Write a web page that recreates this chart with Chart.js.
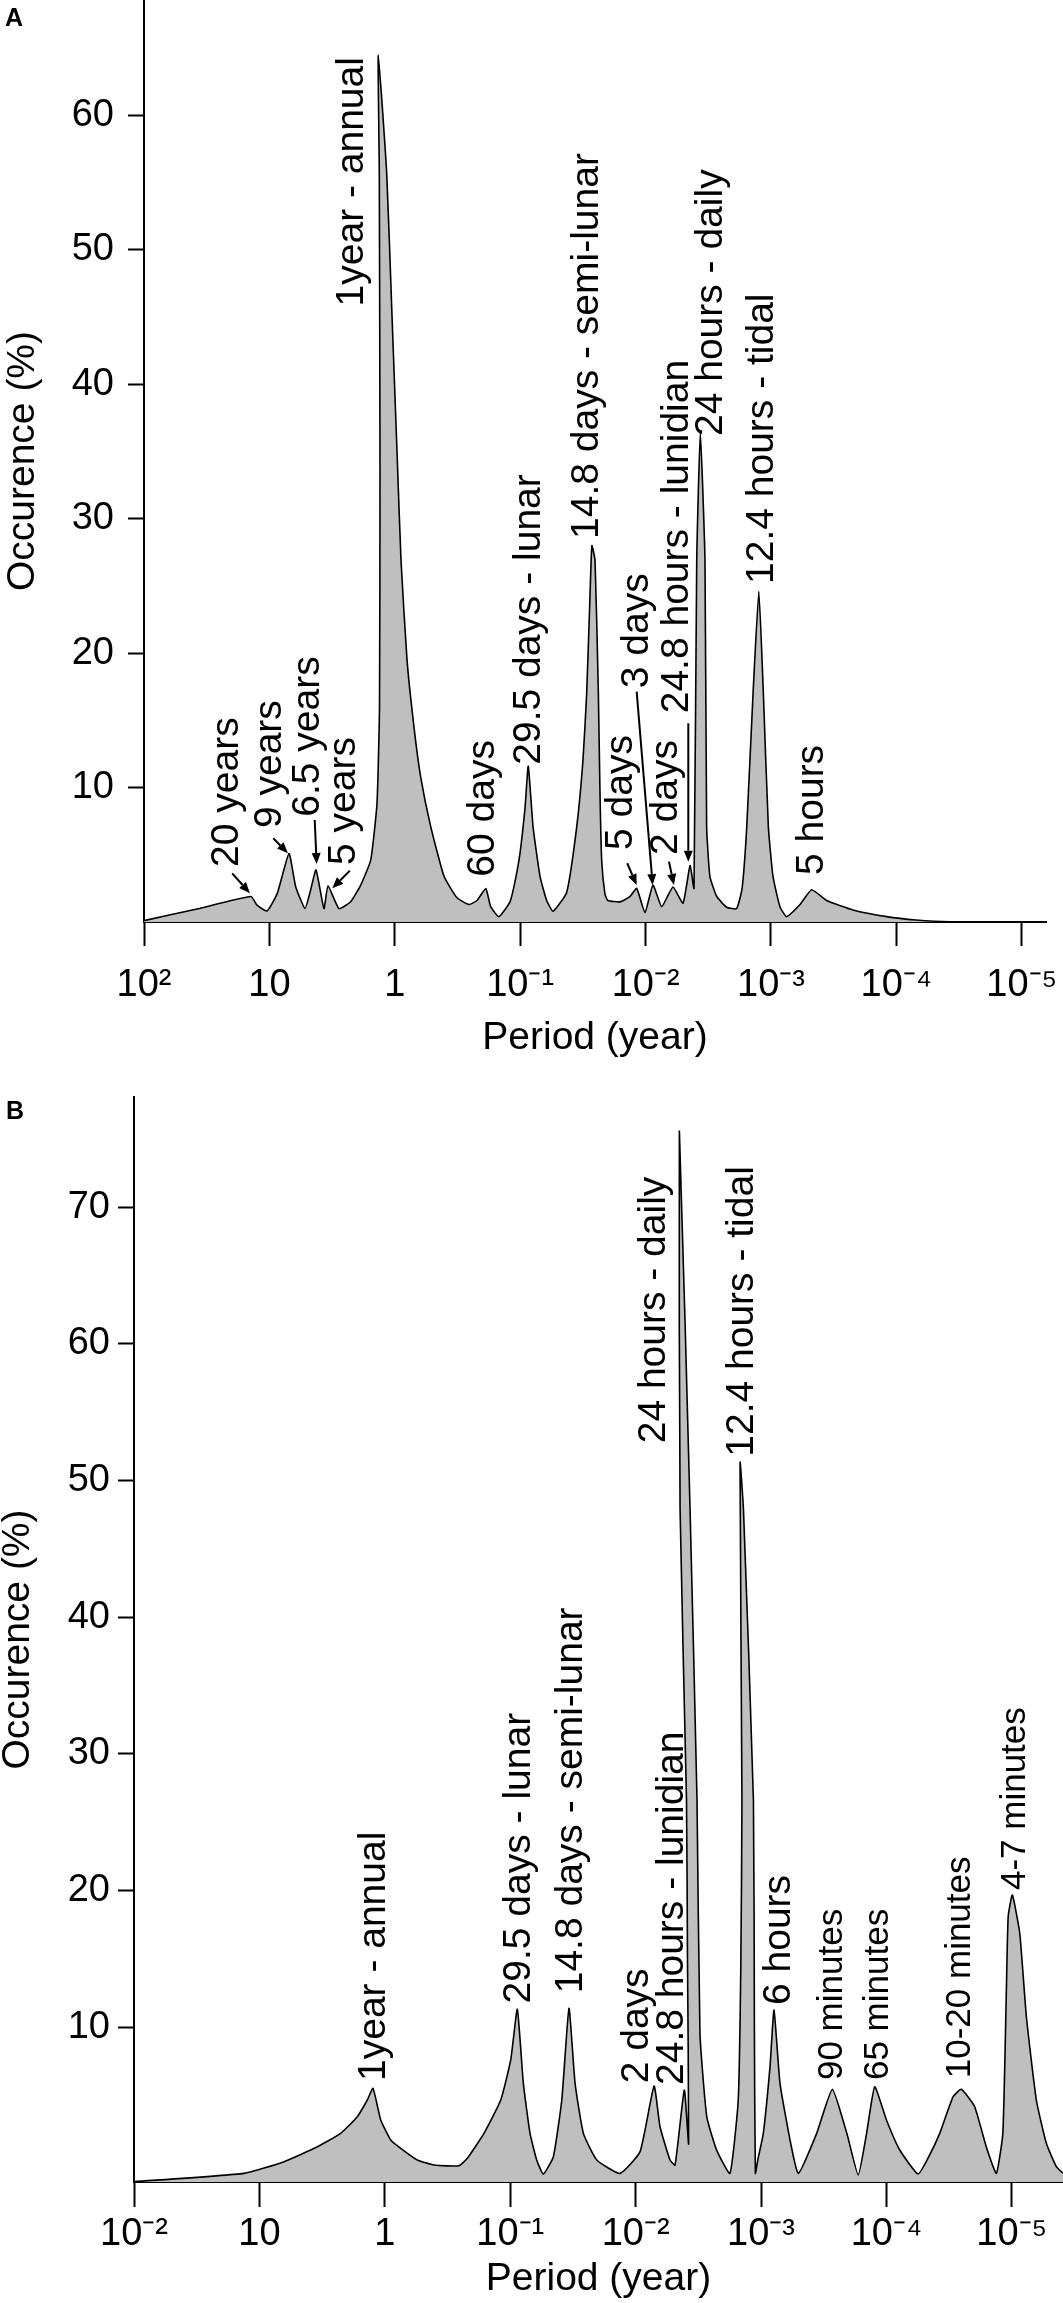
<!DOCTYPE html>
<html>
<head>
<meta charset="utf-8">
<script src="https://cdn.jsdelivr.net/npm/chart.js@4.4.0/dist/chart.umd.min.js"></script>
<style>
  html, body { margin: 0; padding: 0; background: #fff; }
  canvas { display: block; }
</style>
</head>
<body>
<canvas id="chartA" width="1063" height="1080"></canvas>
<canvas id="chartB" width="1063" height="1223"></canvas>
<script>
// panel A: period (years) and occurrence (%)
const periodA = [100, 37.8, 14.02, 12.56, 10.45, 8.65, 6.98, 6.17, 5.20, 4.69, 4.25, 3.67, 3.41, 2.79, 2.25, 1.87,
  1.556, 1.387, 1.324, 1.312, 1.329, 1.354, 1.160, 1.059, 0.955, 0.892, 0.799, 0.703, 0.622, 0.517, 0.405, 0.319,
  0.256, 0.221, 0.188, 0.172, 0.1476, 0.1206, 0.1100, 0.1004, 0.0915, 0.0862, 0.0790, 0.0695, 0.0615, 0.0547,
  0.0426, 0.0354, 0.0316, 0.0295, 0.0277, 0.0268, 0.0253, 0.0238, 0.0231, 0.0224, 0.0211, 0.0200, 0.0160, 0.0133,
  0.01178, 0.01011, 0.00873, 0.00744, 0.00605, 0.00503, 0.00442, 0.00411, 0.00391, 0.00366, 0.00336, 0.00326,
  0.00307, 0.00271, 0.00226, 0.00188, 0.00170, 0.00156, 0.00139, 0.00125, 0.00115, 0.00105, 0.000964, 0.000848,
  0.000750, 0.000587, 0.000474, 0.000360, 0.000222, 0.000120, 6.98e-5, 3.74e-5, 6.41e-6];
const occA = [0.1, 0.97, 1.9, 1.25, 0.82, 2.13, 5.1, 2.63, 1.0, 2.38, 3.87, 1.0, 2.7, 1.0, 1.51, 2.75,
  4.6, 8.8, 16, 34, 55.7, 64.5, 55.7, 45.8, 34.4, 26.9, 19.5, 14.5, 10.8, 7.1, 3.4, 1.8,
  1.3, 1.6, 2.5, 1.14, 0.4, 1.5, 3.0, 5.1, 8.5, 11.6, 7.1, 3.4, 1.6, 0.8,
  2.2, 7.1, 12, 17, 24.5, 28, 26.9, 17, 9.6, 4.6, 2.1, 1.6, 1.5, 1.9,
  2.5, 0.7, 2.75, 1.14, 2.6, 1.4, 4.2, 2.5, 26.9, 36.4, 26.9, 7.1,
  3.4, 1.9, 1.1, 1.0, 2.5, 7.1, 17, 24.6, 17, 7.1, 3.4, 1.14,
  0.4, 1.3, 2.4, 1.6, 0.9, 0.4, 0.15, 0.02, 0];

// panel B
const periodB = [100, 13.27, 6.37, 3.45, 2.25, 1.657, 1.379, 1.242, 1.078, 0.897, 0.747, 0.551, 0.405, 0.256,
  0.220, 0.162, 0.119, 0.0991, 0.0878, 0.0786, 0.0695, 0.0615, 0.0545, 0.0453, 0.0388, 0.0340, 0.0304, 0.0261,
  0.0204, 0.0133, 0.00922, 0.00713, 0.00639, 0.00532, 0.00485, 0.00409, 0.00378, 0.00386, 0.00393, 0.00442,
  0.00448, 0.00368, 0.00324, 0.00307, 0.00271, 0.00226, 0.00177, 0.00152, 0.00145, 0.00142, 0.00147, 0.00138,
  0.00115, 0.00113, 0.00111, 0.00106, 0.000959, 0.000848, 0.000788, 0.000706, 0.000587, 0.000504, 0.000360,
  0.000270, 0.000207, 0.000168, 0.000144, 0.000124, 0.000100, 7.83e-5, 5.60e-5, 4.66e-5, 3.76e-5, 2.94e-5,
  2.53e-5, 1.98e-5, 1.60e-5, 1.33e-5, 1.18e-5, 1.11e-5, 1.07e-5, 9.91e-6, 8.65e-6, 7.66e-6, 6.38e-6, 5.31e-6,
  4.42e-6, 3.91e-6];
const occB = [-1.32, -0.71, 0.15, 1.24, 2.22, 3.44, 4.66, 5.51, 3.2, 1.73, 1.12, 0.27, -0.1, -0.15,
  0.39, 2.22, 4.66, 7.59, 11.3, 5.88, 2.22, 0.27, -0.76, 0.51, 4.66, 11.37, 5.88, 2.22,
  0.27, -0.71, 0.88, 5.68, 2.7, 0.27, -0.1, 5.39, 1.45, 15, 26.6, 47.8,
  75.6, 47.8, 26.6, 9.54, 3.44, 0.99, -0.71, 4.66, 14.4, 26.6, 51.3, 47.8,
  26.6, 10, -0.71, 0.3, 2.22, 7.1, 11.24, 5.88, 1.73, -0.71, 2.22,
  5.44, 2.22, -0.83, 2.22, 5.63, 3.2, 1.0, -0.76, 0.4, 2.22, 4.9,
  5.44, 4.17, 1.24, -0.71, 2.22, 11.98, 18.07, 19.66, 16.86, 10.75, 4.66, 1.49,
  -0.22, -0.7];

const xTickValues = [100, 10, 1, 0.1, 0.01, 0.001, 1e-4, 1e-5];
const xTickLabelsA = ['10²', '10', '1', '10⁻¹', '10⁻²', '10⁻³', '10⁻⁴', '10⁻⁵'];
const xTickLabelsB = ['10⁻²', '10', '1', '10⁻¹', '10⁻²', '10⁻³', '10⁻⁴', '10⁻⁵'];
const yTicksA = [10, 20, 30, 40, 50, 60];
const yTicksB = [10, 20, 30, 40, 50, 60, 70];

// peak labels: text, period, occurrence where the text starts
const labelsA = [
  ['20 years', 17.8, 4.1], ['9 years', 8.08, 6.99], ['6.5 years', 4.02, 7.83], ['5 years', 2.09, 4.24],
  ['1year - annual', 1.78, 45.8], ['60 days', 0.162, 3.37], ['29.5 days - lunar', 0.0689, 11.7],
  ['14.8 days - semi-lunar', 0.0240, 28.5], ['5 days', 0.0129, 5.36], ['3 days', 0.00952, 17.39],
  ['2 days', 0.00565, 4.99], ['24.8 hours - lunidian', 0.004565, 15.53], ['24 hours - daily', 0.00246, 36.16],
  ['12.4 hours - tidal', 0.000955, 25.15], ['5 hours', 0.000383, 3.5]
];
const arrowsA = [
  [19.8, 3.62, 14.3, 2.14], [9.31, 6.23, 7.11, 5.11], [4.35, 7.59, 4.20, 4.32], [2.28, 3.82, 3.15, 2.51],
  [0.0140, 4.37, 0.01178, 2.75], [0.01178, 17.14, 0.00878, 2.75], [0.00651, 4.49, 0.00594, 2.75],
  [0.004565, 14.78, 0.004565, 4.49]
];
const labelsB = [
  ['1year - annual', 0.9963, 6.05], ['29.5 days - lunar', 0.0695, 11.73], ['14.8 days - semi-lunar', 0.0269, 12.47],
  ['2 days', 0.00792, 5.88], ['24.8 hours - lunidian', 0.00417, 5.76], ['24 hours - daily', 0.00583, 52.71],
  ['12.4 hours - tidal', 0.00115, 51.73], ['6 hours', 0.000587, 11.61],
  ['90 minutes', 0.000228, 6.12, 35], ['65 minutes', 9.68e-5, 6.12, 35], ['10-20 minutes', 2.17e-5, 6.25, 35],
  ['4-7 minutes', 7.89e-6, 20.02, 35]
];

const FONT = '"Liberation Sans", Arial, Helvetica, sans-serif';
Chart.defaults.font.family = FONT;
Chart.defaults.color = '#000';

const peakLabels = {
  id: 'peakLabels',
  afterDatasetsDraw(chart, args, opts) {
    const {ctx, scales: {x, y}} = chart;
    ctx.save();
    ctx.fillStyle = '#000';
    ctx.strokeStyle = '#000';
    opts.labels.forEach(l => {
      const px = x.getPixelForValue(l[1]);
      const py = y.getPixelForValue(l[2]);
      ctx.save();
      ctx.translate(px, py);
      ctx.rotate(-Math.PI / 2);
      ctx.font = (l[3] || 39) + 'px ' + FONT;
      ctx.textAlign = 'left';
      ctx.textBaseline = 'alphabetic';
      ctx.fillText(l[0], 0, 0);
      ctx.restore();
    });
    (opts.arrows || []).forEach(a => {
      const x1 = x.getPixelForValue(a[0]), y1 = y.getPixelForValue(a[1]);
      const x2 = x.getPixelForValue(a[2]), y2 = y.getPixelForValue(a[3]);
      const ang = Math.atan2(y2 - y1, x2 - x1);
      const hl = 11, hw = 4.5;
      ctx.lineWidth = 2;
      ctx.beginPath();
      ctx.moveTo(x1, y1);
      ctx.lineTo(x2 - hl * Math.cos(ang), y2 - hl * Math.sin(ang));
      ctx.stroke();
      ctx.beginPath();
      ctx.moveTo(x2, y2);
      ctx.lineTo(x2 - hl * Math.cos(ang) + hw * Math.sin(ang), y2 - hl * Math.sin(ang) - hw * Math.cos(ang));
      ctx.lineTo(x2 - hl * Math.cos(ang) - hw * Math.sin(ang), y2 - hl * Math.sin(ang) + hw * Math.cos(ang));
      ctx.closePath();
      ctx.fill();
    });
    ctx.font = 'bold 25px ' + FONT;
    ctx.textAlign = 'left';
    ctx.textBaseline = 'alphabetic';
    ctx.fillText(opts.letter, opts.letterX, opts.letterY);
    ctx.restore();
  }
};

function tickLabel(list) {
  return v => {
    const i = xTickValues.findIndex(t => Math.abs(Math.log10(t) - Math.log10(v)) < 1e-6);
    return i < 0 ? '' : list[i];
  };
}

function buildChart(id, o) {
  const axisLine = {display: true, color: '#000', width: 2};
  return new Chart(document.getElementById(id), {
    type: 'line',
    data: {
      datasets: [{
        data: o.period.map((p, i) => ({x: p, y: o.occ[i]})),
        borderColor: '#000',
        borderWidth: 1.6,
        backgroundColor: '#bfbfbf',
        fill: 'start',
        pointRadius: 0,
        tension: 0.15
      }]
    },
    options: {
      responsive: false,
      animation: false,
      devicePixelRatio: 1,
      layout: {padding: o.padding},
      plugins: {
        legend: {display: false},
        tooltip: {enabled: false},
        peakLabels: {labels: o.labels, arrows: o.arrows, letter: o.letter, letterX: o.letterX, letterY: o.letterY}
      },
      scales: {
        x: {
          type: 'logarithmic',
          reverse: true,
          min: o.xMin,
          max: 100,
          afterBuildTicks: s => { s.ticks = xTickValues.map(v => ({value: v})); },
          afterFit: s => { s.height = o.xHeight; s.paddingLeft = 0; s.paddingRight = 0; },
          border: axisLine,
          grid: {display: true, drawOnChartArea: false, drawTicks: true, tickLength: o.xTick, tickWidth: 2, tickColor: '#000'},
          ticks: {callback: tickLabel(o.xLabels), font: {size: 38}, padding: o.xPad, maxRotation: 0, autoSkip: false, color: '#000'},
          title: {display: true, text: 'Period (year)', font: {size: 39}, padding: {top: 0, bottom: o.xTitlePad}}
        },
        y: {
          min: o.yMin,
          max: o.yMax,
          afterBuildTicks: s => { s.ticks = o.yTicks.map(v => ({value: v})); },
          afterFit: s => { s.width = o.yWidth; s.paddingTop = 0; s.paddingBottom = 0; },
          border: axisLine,
          grid: {display: true, drawOnChartArea: false, drawTicks: true, tickLength: 16, tickWidth: 2, tickColor: '#000'},
          ticks: {font: {size: 38}, padding: o.yPad, color: '#000'},
          title: {display: true, text: 'Occurence (%)', font: {size: 39}, padding: {top: o.yTitlePad, bottom: 0}}
        }
      }
    },
    plugins: [peakLabels]
  });
}

buildChart('chartA', {
  period: periodA, occ: occA, labels: labelsA, arrows: arrowsA,
  letter: 'A', letterX: 5, letterY: 26,
  padding: {left: 0, right: 17, top: 0, bottom: 0},
  xMin: 6.41e-6, xLabels: xTickLabelsA, xHeight: 158, xTick: 24, xPad: 17, xTitlePad: 18,
  yMin: 0, yMax: 68.6, yTicks: yTicksA, yWidth: 144, yPad: 14, yTitlePad: 0
});

buildChart('chartB', {
  period: periodB, occ: occB, labels: labelsB, arrows: [],
  letter: 'B', letterX: 6, letterY: 39,
  padding: {left: 0, right: 0, top: 17, bottom: 0},
  xMin: 3.91e-6, xLabels: xTickLabelsB, xHeight: 121, xTick: 25, xPad: 5, xTitlePad: 0,
  yMin: -1.34, yMax: 78.05, yTicks: yTicksB, yWidth: 134, yPad: 8, yTitlePad: -5
});
</script>
</body>
</html>
